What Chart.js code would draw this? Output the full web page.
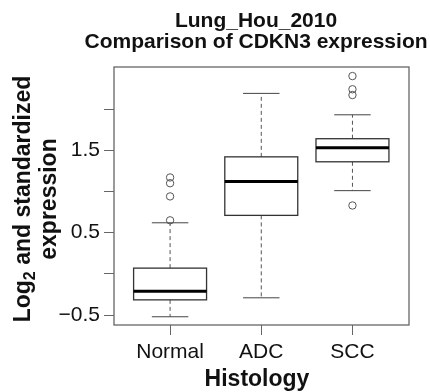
<!DOCTYPE html>
<html lang="en">
  <head>
    <meta charset="UTF-8" />
    <title>Lung_Hou_2010 - CDKN3</title>
    <script src="https://cdn.jsdelivr.net/npm/chart.js"></script>
    <style>
      html, body { margin: 0; padding: 0; background: #fff; }
      #wrap { width: 430px; height: 392px; }
    </style>
  </head>
  <body>
    <div id="wrap"><canvas id="boxChart" width="430" height="392"></canvas></div>

    <script>
      // data
      const categories = ["Normal", "ADC", "SCC"];
      const whiskerLow = [-0.52, -0.29, 1.01];
      const q1 = [-0.315, 0.71, 1.36];
      const median = [-0.21, 1.12, 1.53];
      const q3 = [0.07, 1.42, 1.64];
      const whiskerHigh = [0.62, 2.19, 1.93];
      const outliers = [
        [0.65, 0.94, 1.1, 1.17],
        [],
        [0.83, 2.17, 2.24, 2.4],
      ];
      const yTicks = [-0.5, 0, 0.5, 1, 1.5, 2];
      const yTickLabels = ["\u22120.5", "", "0.5", "", "1.5", ""];

      const FONT = "'Liberation Sans', Arial, Helvetica, sans-serif";
      Chart.defaults.font.family = FONT;
      Chart.defaults.color = "#111";

      const outlierPoints = [];
      outliers.forEach((vals, i) => vals.forEach((v) => outlierPoints.push({ x: i + 1, y: v })));

      // boxes, whiskers, medians and the frame
      const boxPlugin = {
        id: "boxes",
        beforeDatasetsDraw(chart) {
          const { ctx, chartArea, scales } = chart;
          const x = scales.x, y = scales.y;
          const line = (x1, y1, x2, y2) => {
            ctx.beginPath();
            ctx.moveTo(x1, y1);
            ctx.lineTo(x2, y2);
            ctx.stroke();
          };
          ctx.save();
          categories.forEach((c, i) => {
            const cx = x.getPixelForValue(i + 1);
            const half = (x.getPixelForValue(i + 1.4) - x.getPixelForValue(i + 0.6)) / 2;
            const cap = half / 2;

            ctx.strokeStyle = "#555";
            ctx.lineWidth = 1;
            ctx.setLineDash([4, 3]);
            line(cx, y.getPixelForValue(q3[i]), cx, y.getPixelForValue(whiskerHigh[i]));
            line(cx, y.getPixelForValue(q1[i]), cx, y.getPixelForValue(whiskerLow[i]));
            ctx.setLineDash([]);

            ctx.strokeStyle = "#444";
            line(cx - cap, y.getPixelForValue(whiskerHigh[i]), cx + cap, y.getPixelForValue(whiskerHigh[i]));
            line(cx - cap, y.getPixelForValue(whiskerLow[i]), cx + cap, y.getPixelForValue(whiskerLow[i]));

            const top = y.getPixelForValue(q3[i]);
            const bot = y.getPixelForValue(q1[i]);
            ctx.strokeStyle = "#333";
            ctx.lineWidth = 1.3;
            ctx.strokeRect(cx - half, top, half * 2, bot - top);

            ctx.strokeStyle = "#000";
            ctx.lineWidth = 3;
            line(cx - half, y.getPixelForValue(median[i]), cx + half, y.getPixelForValue(median[i]));
          });

          ctx.strokeStyle = "#666";
          ctx.lineWidth = 1.3;
          ctx.strokeRect(chartArea.left, chartArea.top, chartArea.right - chartArea.left, chartArea.bottom - chartArea.top);
          ctx.restore();
        },
        afterDraw(chart) {
          const { ctx, chartArea } = chart;
          ctx.save();
          ctx.fillStyle = "#111";
          ctx.textBaseline = "alphabetic";

          // main title
          ctx.textAlign = "center";
          ctx.font = "bold 21px " + FONT;
          ctx.fillText("Lung_Hou_2010", 256, 27);
          ctx.fillText("Comparison of CDKN3 expression", 256, 47.5);

          // x axis title
          ctx.font = "bold 23px " + FONT;
          ctx.fillText("Histology", 257, 386);

          // y axis title, with subscript 2
          const cy = (chartArea.top + chartArea.bottom) / 2 + 3;
          ctx.translate(30, cy);
          ctx.rotate(-Math.PI / 2);
          ctx.textAlign = "left";
          ctx.font = "bold 23px " + FONT;
          const wLog = ctx.measureText("Log").width;
          const wRest = ctx.measureText(" and standardized").width;
          ctx.font = "bold 16px " + FONT;
          const wSub = ctx.measureText("2").width;
          let sx = -(wLog + wSub + wRest) / 2;
          ctx.font = "bold 23px " + FONT;
          ctx.fillText("Log", sx, 0);
          ctx.font = "bold 16px " + FONT;
          ctx.fillText("2", sx + wLog, 5);
          ctx.font = "bold 23px " + FONT;
          ctx.fillText(" and standardized", sx + wLog + wSub, 0);
          ctx.textAlign = "center";
          ctx.fillText("expression", 0, 26);
          ctx.restore();
        },
      };

      new Chart(document.getElementById("boxChart"), {
        type: "scatter",
        data: {
          datasets: [
            {
              data: outlierPoints,
              pointStyle: "circle",
              pointRadius: 3.7,
              backgroundColor: "rgba(0,0,0,0)",
              borderColor: "#555",
              borderWidth: 1,
            },
          ],
        },
        options: {
          responsive: false,
          animation: false,
          layout: { padding: { top: 67, right: 21, left: 0, bottom: 0 } },
          plugins: { legend: { display: false }, tooltip: { enabled: false } },
          scales: {
            x: {
              type: "linear",
              min: 0.385,
              max: 3.62,
              afterBuildTicks: (s) => {
                s.ticks = categories.map((c, i) => ({ value: i + 1 }));
              },
              afterFit: (s) => {
                s.height = 67;
              },
              ticks: {
                callback: (v) => categories[v - 1],
                font: { size: 21 },
                color: "#111",
                padding: 5,
                maxRotation: 0,
                autoSkip: false,
              },
              grid: { drawOnChartArea: false, tickLength: 10, tickColor: "#666" },
              border: { display: false },
            },
            y: {
              min: -0.62,
              max: 2.51,
              afterBuildTicks: (s) => {
                s.ticks = yTicks.map((v) => ({ value: v }));
              },
              afterFit: (s) => {
                s.width = 114;
              },
              ticks: {
                callback: (v, i) => yTickLabels[i],
                font: { size: 21 },
                color: "#111",
                padding: 4,
                autoSkip: false,
              },
              grid: { drawOnChartArea: false, tickLength: 10, tickColor: "#666" },
              border: { display: false },
            },
          },
        },
        plugins: [boxPlugin],
      });
    </script>
  </body>
</html>
